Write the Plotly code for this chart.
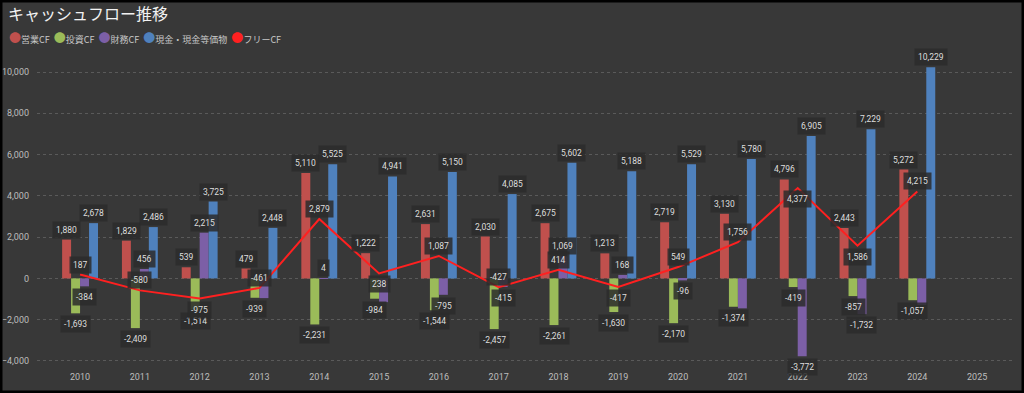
import plotly.graph_objects as go

# ---------------- data ----------------
years = [str(y) for y in range(2010, 2026)]
operating_cf = [1880, 1829, 539, 479, 5110, 1222, 2631, 2030, 2675, 1213, 2719, 3130, 4796, 2443, 5272, None]
investing_cf = [-1693, -2409, -1514, -939, -2231, -984, -1544, -2457, -2261, -1630, -2170, -1374, -419, -857, -1057, None]
financing_cf = [-384, 456, 2215, -955, 4, -1150, -795, -415, 1069, 168, -96, -1450, -3772, -1732, -1290, None]
cash_eq = [2678, 2486, 3725, 2448, 5525, 4941, 5150, 4085, 5602, 5188, 5529, 5780, 6905, 7229, 10229, None]
free_cf = [187, -580, -975, -461, 2879, 238, 1087, -427, 414, -417, 549, 1756, 4377, 1586, 4215, None]

series_names = ["営業CF", "投資CF", "財務CF", "現金・現金等価物", "フリーCF"]
y_ticks = [-4000, -2000, 0, 2000, 4000, 6000, 8000, 10000]

# label display options (labels hidden in the original where they overlapped)
financing_label_shown = [True, True, True, False, True, False, True, True, True, True, True, False, True, True, False, False]
free_label_below = [False, False, True, False, False, True, False, False, False, True, False, False, True, True, False, False]

# ---------------- style ----------------
BG = "#383838"
C_OP = "#c0504d"
C_INV = "#9bbb59"
C_FIN = "#7c5fa6"
C_CASH = "#4f81bd"
C_FREE = "#ff2020"
LABEL_BG = "rgba(44,44,44,0.85)"
LABEL_FONT = dict(family="Roboto, DejaVu Sans", size=8.5, color="#dedede")

W, H = 1024, 393
ML, MR, MT, MB = 37, 11, 48, 23
PW, PH = W - ML - MR, H - MT - MB

fig = go.Figure()
colors = [C_OP, C_INV, C_FIN, C_CASH]
bar_series = [operating_cf, investing_cf, financing_cf, cash_eq]
for name, vals, col in zip(series_names[:4], bar_series, colors):
    fig.add_trace(go.Bar(x=years, y=vals, name=name, marker=dict(color=col, line=dict(width=0)),
                         showlegend=False, hoverinfo="x+y"))

fig.add_trace(go.Scatter(x=years, y=free_cf, name=series_names[4], mode="lines",
                         line=dict(color=C_FREE, width=2), showlegend=False))

# ---------------- data labels ----------------
px_per_cat = PW / 16.32
bar_w = px_per_cat * 0.6 / 4
offsets = [-1.5 * bar_w, -0.5 * bar_w, 0.5 * bar_w, 1.5 * bar_w]
annotations = []


def add_label(idx, v, xshift, below):
    annotations.append(dict(
        x=idx, y=v, xref="x", yref="y", text=f"{v:,}", showarrow=False,
        xshift=xshift, yshift=(-11 if below else 10), xanchor="center", yanchor="middle",
        font=LABEL_FONT, bgcolor=LABEL_BG, borderpad=3,
    ))


for si, vals in enumerate(bar_series):
    for i, v in enumerate(vals):
        if v is None:
            continue
        if si == 2 and not financing_label_shown[i]:
            continue
        add_label(i, v, offsets[si], v < 0)

for i, v in enumerate(free_cf):
    if v is None:
        continue
    add_label(i, v, 0, free_label_below[i])

# ---------------- legend (compact, as in original) ----------------
legend_colors = [C_OP, C_INV, C_FIN, C_CASH, C_FREE]
parts = []
for name, col in zip(series_names, legend_colors):
    parts.append(f"<span style='color:{col};font-size:12px'>●</span>{name}")
annotations.append(dict(
    xref="paper", yref="paper", x=-30 / PW, y=1 + (MT - 37) / PH, xanchor="left", yanchor="middle",
    text="  ".join(parts), showarrow=False,
    font=dict(family="Noto Sans CJK JP", size=9, color="#c8c8c8"),
))

fig.update_layout(
    width=W, height=H, autosize=False,
    margin=dict(l=ML, r=MR, t=MT, b=MB, pad=0, autoexpand=False),
    paper_bgcolor=BG, plot_bgcolor=BG,
    barmode="group", bargap=0.4, bargroupgap=0,
    title=dict(text="キャッシュフロー推移", x=8 / W, xref="container", xanchor="left",
               y=1 - 14 / H, yref="container", yanchor="middle",
               font=dict(family="Noto Sans CJK JP", size=16, color="#f2f2f2")),
    font=dict(family="Noto Sans CJK JP, Roboto", color="#bdbdbd"),
    annotations=annotations,
    shapes=[dict(type="rect", xref="paper", yref="paper",
                 x0=-ML / PW, x1=1 + MR / PW, y0=-MB / PH, y1=1 + MT / PH,
                 line=dict(color="#000000", width=5), layer="above")],
)

fig.update_xaxes(type="category", range=[-0.72, 15.6], showgrid=False, zeroline=False, automargin=False,
                 showline=False, ticks="", tickfont=dict(family="Roboto", size=9, color="#bdbdbd"))
fig.update_yaxes(range=[-4438, 11163], tickvals=y_ticks, tickformat=",", showgrid=True, automargin=False,
                 gridcolor="#5a5a5a", griddash="dot", gridwidth=1, zeroline=False, showline=False,
                 ticks="", ticklabelstandoff=7, tickfont=dict(family="Roboto", size=9, color="#bdbdbd"))

fig.write_html("out.html", config={"displayModeBar": False},
               post_script="document.body.style.margin='0';document.body.style.overflow='hidden';")
